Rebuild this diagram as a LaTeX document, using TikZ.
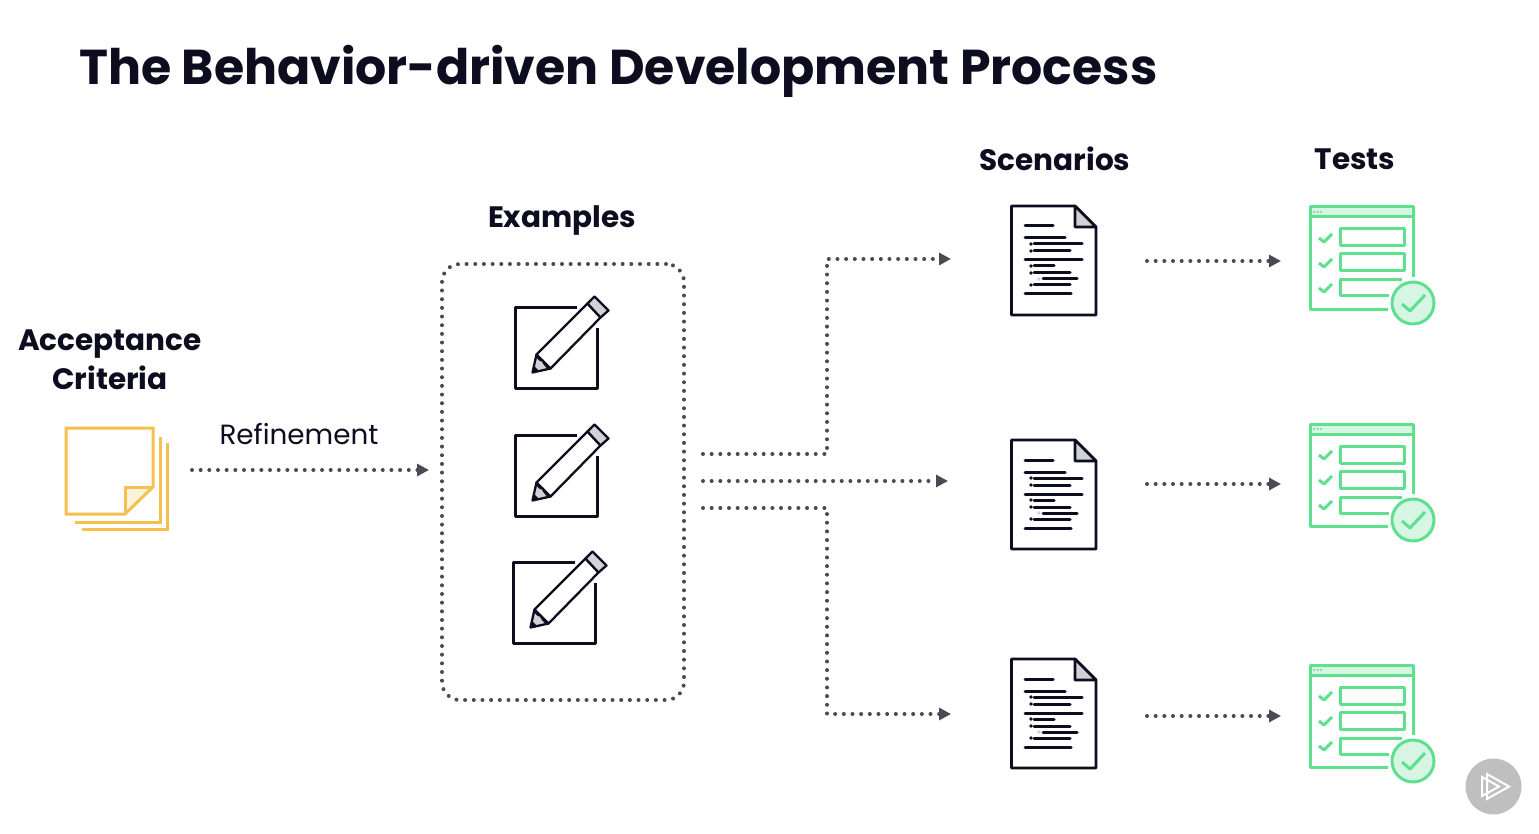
\documentclass[tikz,border=0pt]{standalone}
\usepackage{fontspec}
\setmainfont{Poppins}
\usetikzlibrary{arrows.meta}
\definecolor{ink}{HTML}{0D0D1F}
\definecolor{dotc}{HTML}{4A4A55}
\definecolor{grn}{HTML}{5FE08F}
\definecolor{grnl}{HTML}{D6F5E3}
\definecolor{yel}{HTML}{F5C04E}
\definecolor{yell}{HTML}{FDF2DA}
\definecolor{gry}{HTML}{D2D2D6}
\tikzset{
  head/.style={font=\fontsize{29.5}{39}\selectfont\bfseries,text=ink,align=center,inner sep=0pt},
  dots/.style={draw=dotc,line width=4pt,line cap=round,dash pattern=on 0pt off 8.67pt},
  flow/.style={dots,-{Triangle[length=12pt,width=12pt,fill=dotc,sep=0pt]}},
  ic/.style={draw=ink,line width=2.6pt,line join=round},
  tx/.style={draw=ink,line width=3pt,line cap=round},
  gl/.style={draw=grn,line width=3pt,line join=round},
  yl/.style={draw=yel,line width=3pt},
  pics/doc/.style={code={
    \draw[ic] (0.500,0) -- (64,0) -- (85,21) -- (85,109) -- (0.500,109) -- cycle;
    \draw[ic,fill=gry] (64,0) -- (85,21) -- (64,21) -- cycle;
    \draw[tx] (14,20)--(42,20) (14,32)--(54,32) (23,38)--(71,38) (23,45)--(59,45) (14,54)--(71,54)
      (23,60)--(43,60) (23,67)--(59,67) (32,73)--(66,73) (23,79)--(59,79) (14,88)--(60,88);
    \fill[ink] (20,38) circle (1.9) (20,45) circle (1.9) (20,60) circle (1.9) (20,67) circle (1.9) (20,79) circle (1.9);
    \fill[gry] (28,73) circle (1.9);
  }},
  pics/testicon/.style={code={
    \draw[gl,fill=grnl] (0,0) rectangle (103.500,10);
    \draw[gl] (103.500,10) -- (103.500,70) (78,102) -- (0,102) -- (0,10);
    \fill[grn] (4,5) circle (1.2) (7.500,5) circle (1.2) (11,5) circle (1.2);
    \draw[gl] (30,22) rectangle (94.500,39) (30,47) rectangle (94.500,64) (92,73) -- (30,73) -- (30,89) -- (79,89);
    \foreach \d in {0,25,50} {\draw[gl] (9,31+\d) -- (14,35+\d) -- (22,27+\d);}
    \draw[gl,fill=grnl] (103,96) circle (21);
    \draw[gl] (92,97) -- (100,104) -- (115,88);
  }},
  pics/pencilbox/.style={code={
    \draw[ic,line width=2.3pt] (61,0) -- (0,0) -- (0,81) -- (82,81) -- (82,20);
    \draw[ic,line width=2.3pt,fill=white] (21,47) -- (72,-4) -- (85,10) -- (35,61) -- cycle;
    \draw[ic,line width=2.3pt,fill=gry] (72,-4) -- (79,-11) -- (93,3) -- (85,10) -- cycle;
    \draw[ic,line width=2.3pt,fill=gry] (21,47) -- (17,65) -- (35,61) .. controls (30,60) and (28,54) .. (27,53) .. controls (24,53) and (22,50) .. (21,47) -- cycle;
    \fill[ink] (17,65) -- (18,58) -- (24,64) -- cycle;
  }},
  pics/sticky/.style={code={
    \fill[yell] (59,86) -- (59,59) -- (87,59) -- cycle;
    \draw[yl,line join=miter] (59,86) -- (0,86) -- (0,0) -- (87,0) -- (87,59) -- cycle;
    \draw[yl] (59,86) -- (59,59) -- (87,59);
    \draw[yl] (9,94) -- (94,94) -- (94,9) (16,101) -- (101.500,101) -- (101.500,15);
  }},
}
\begin{document}
\begin{tikzpicture}[x=1pt,y=-1pt]
\useasboundingbox (0,0) rectangle (1539,834);
\fill[white] (0,0) rectangle (1539,834);

\node[font=\fontsize{49}{60}\selectfont\bfseries,text=ink,anchor=west,inner sep=0pt] (title) at (79,71) {The Behavior-driven Development Process};
\node[head] (hAC) at (110,360) {Acceptance\\Criteria};
\node[head] (hEx) at (562,221) {Examples};
\node[head] (hSc) at (1055,159) {Scenarios};
\node[head] (hTe) at (1355,159) {Tests};
\node[font=\fontsize{27.8}{34}\selectfont,text=ink,inner sep=0pt] (lRef) at (299,434) {Refinement};

\pic at (66,428) {sticky};

\node[dots,rounded corners=18pt,
  minimum width=242pt,minimum height=436pt,inner sep=0pt] (exbox) at (563,482) {};

\pic at (515.5,307.5) {pencilbox};
\pic at (515.5,435.5) {pencilbox};
\pic at (513.5,562.5) {pencilbox};

\pic at (1011,206) {doc};
\pic at (1011,440) {doc};
\pic at (1011,659) {doc};

\pic at (1310,207) {testicon};
\pic at (1310,424) {testicon};
\pic at (1310,665) {testicon};

\coordinate (refA) at (192,470); \coordinate (refB) at (429,470);
\coordinate (a1) at (703,454); \coordinate (a2) at (703,481); \coordinate (a3) at (703,508);
\coordinate (s1) at (951,259); \coordinate (s2) at (948,481); \coordinate (s3) at (951,714);
\coordinate (t1a) at (1147,261); \coordinate (t1b) at (1281,261);
\coordinate (t2a) at (1147,484); \coordinate (t2b) at (1281,484);
\coordinate (t3a) at (1147,716); \coordinate (t3b) at (1281,716);
\coordinate (j1) at (827,454); \coordinate (j3) at (827,508);

\draw[flow] (refA) -- (refB);
\draw[flow] (a1) -- (j1) |- (s1);
\draw[flow] (a2) -- (s2);
\draw[flow] (a3) -- (j3) |- (s3);
\draw[flow] (t1a) -- (t1b);
\draw[flow] (t2a) -- (t2b);
\draw[flow] (t3a) -- (t3b);

\fill[gray!50!white] (1493.5,786.5) circle (28);
\draw[white,line width=2pt,line join=miter] (1487,774) -- (1509,786.500) -- (1487,799) -- cycle;
\draw[white,line width=2pt,line join=miter] (1482,777) -- (1499,786.500) -- (1482,796) -- cycle;
\end{tikzpicture}
\end{document}
